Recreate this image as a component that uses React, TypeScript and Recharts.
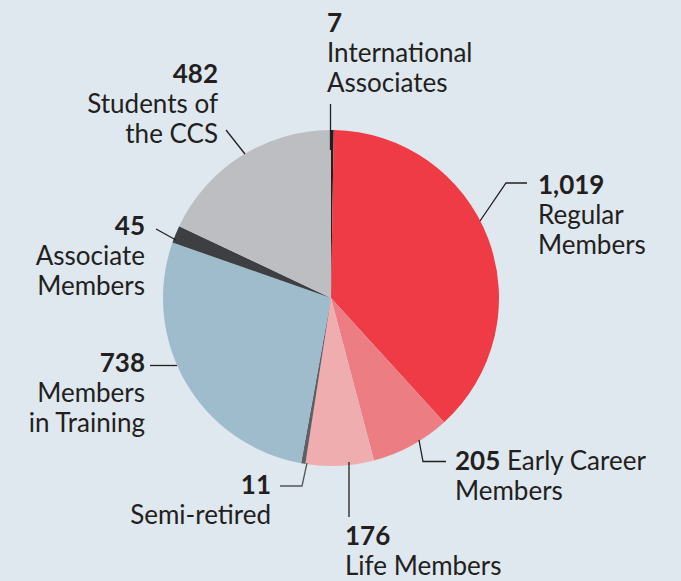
import React from 'react';
import { PieChart, Pie, Cell } from 'recharts';

const categories = [
  'International Associates',
  'Regular Members',
  'Early Career Members',
  'Life Members',
  'Semi-retired',
  'Members in Training',
  'Associate Members',
  'Students of the CCS',
];
const values = [7, 1019, 205, 176, 11, 738, 45, 482];
const labelTexts: string[][] = [
  ['International', 'Associates'],
  ['Regular', 'Members'],
  ['Early Career', 'Members'],
  ['Life Members'],
  ['Semi-retired'],
  ['Members', 'in Training'],
  ['Associate', 'Members'],
  ['Students of', 'the CCS'],
];
const colors = ['#231f20', '#ef3b45', '#ec7e83', '#f0adb0', '#5d5f62', '#9ebccc', '#3d3f42', '#bdbec2'];

const data = categories.map((name, i) => ({ name, value: values[i] }));

type Layout = {
  x: number;
  y: number;
  anchor: 'start' | 'end';
  gap: number;
  inline?: boolean;
  line: number[][];
  lineColor?: string;
};

const layouts: Layout[] = [
  { x: 327, y: 32, anchor: 'start', gap: 30, line: [[330.5, 104], [330.5, 150]] },
  { x: 538, y: 194, anchor: 'start', gap: 30, line: [[527, 183], [506, 183], [480, 221]] },
  { x: 455, y: 470, anchor: 'start', gap: 30, inline: true, line: [[446, 461.5], [423, 461.5], [419, 440]] },
  { x: 345, y: 545, anchor: 'start', gap: 30, line: [[349, 462], [349, 517]] },
  { x: 271, y: 494, anchor: 'end', gap: 30, line: [[280, 486], [302, 486], [307, 463]], lineColor: '#555' },
  { x: 145, y: 372, anchor: 'end', gap: 30, line: [[150, 365.5], [177, 365.5]] },
  { x: 145, y: 235, anchor: 'end', gap: 30, line: [[156, 229], [176, 240]] },
  { x: 218, y: 83, anchor: 'end', gap: 30, line: [[226, 130], [245, 154]] },
];

const FONT = 'Lato, "Noto Sans", sans-serif';
const TEXT = '#231f20';
const FS = 26;

const renderLabel = (props: any) => {
  const i = props.index as number;
  const l = layouts[i];
  const num = values[i].toLocaleString('en-US');
  const lines = labelTexts[i];
  const pts = l.line.map((p) => p.join(',')).join(' ');
  return (
    <g key={`lbl-${i}`}>
      <polyline points={pts} fill="none" stroke={l.lineColor || '#231f20'} strokeWidth={1.3} />
      <text x={l.x} y={l.y} textAnchor={l.anchor} fontFamily={FONT} fontSize={FS} fill={TEXT}>
        <tspan fontWeight={700}>{num}</tspan>
        {l.inline ? <tspan>{' ' + lines[0]}</tspan> : null}
      </text>
      {(l.inline ? lines.slice(1) : lines).map((t, k) => (
        <text
          key={k}
          x={l.x}
          y={l.y + l.gap * (k + 1)}
          textAnchor={l.anchor}
          fontFamily={FONT}
          fontSize={FS}
          fill={TEXT}
        >
          {t}
        </text>
      ))}
    </g>
  );
};

export default function App() {
  return (
    <div style={{ position: 'fixed', left: 0, top: 0, width: 681, height: 581, background: '#dfe7ef' }}>
      <PieChart width={681} height={581} margin={{ top: 0, right: 0, bottom: 0, left: 0 }}>
        <Pie
          data={data}
          dataKey="value"
          nameKey="name"
          cx={331}
          cy={298}
          outerRadius={168}
          innerRadius={0}
          startAngle={90}
          endAngle={-270}
          stroke="none"
          isAnimationActive={false}
          labelLine={false}
          label={renderLabel}
        >
          {data.map((d, i) => (
            <Cell key={d.name} fill={colors[i]} />
          ))}
        </Pie>
      </PieChart>
    </div>
  );
}
